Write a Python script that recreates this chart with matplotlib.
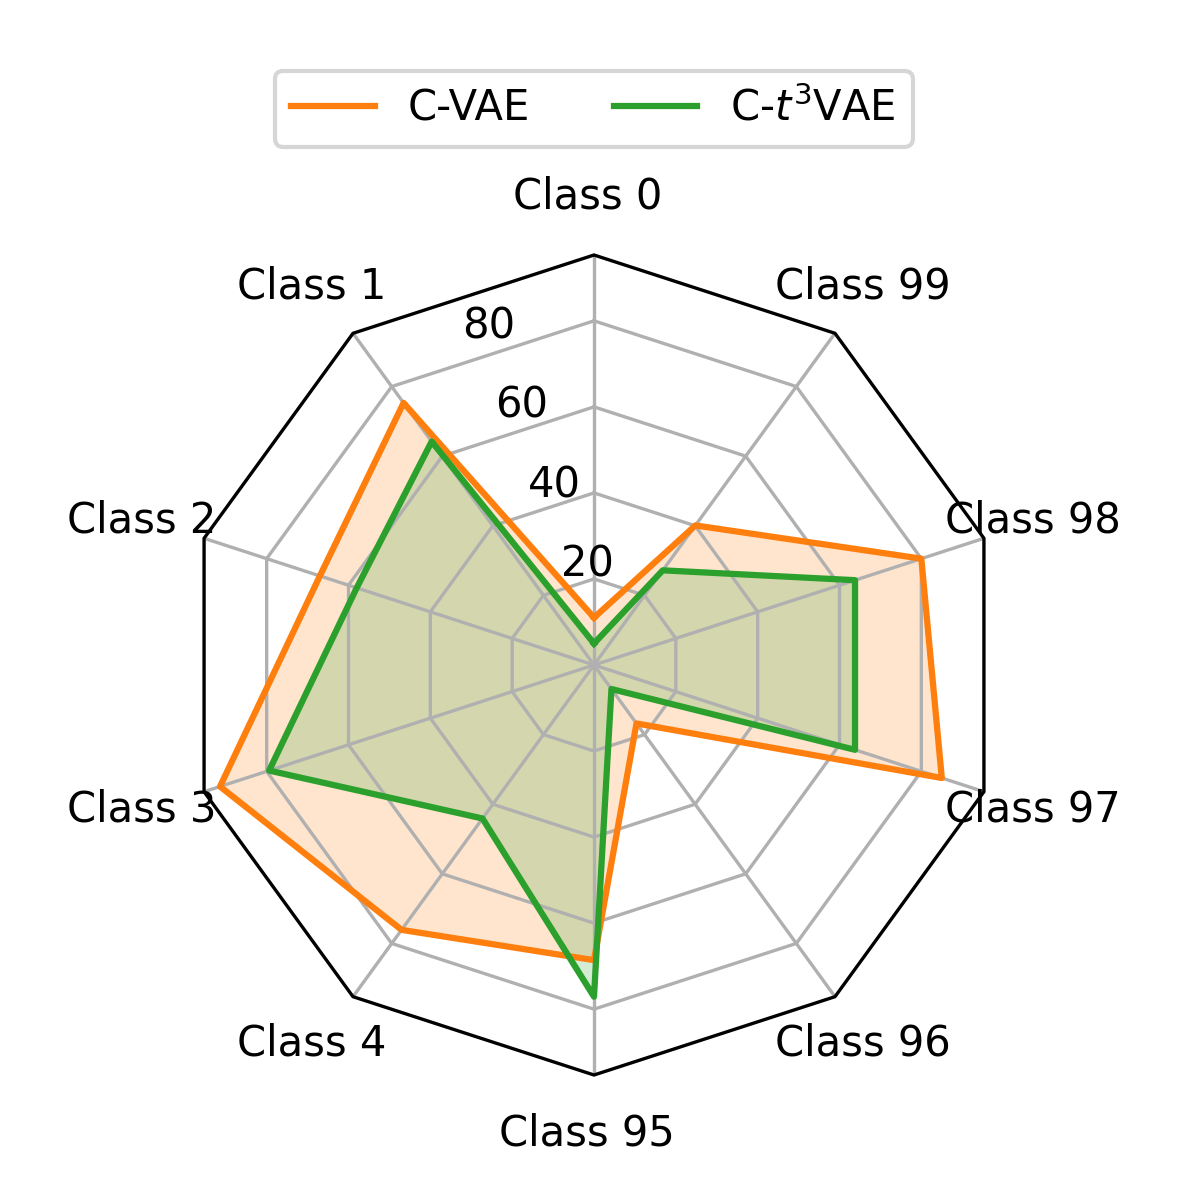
import numpy as np
import matplotlib as mpl
mpl.use('Agg')
import matplotlib.pyplot as plt
from matplotlib.patches import RegularPolygon
from matplotlib.path import Path
from matplotlib.projections import register_projection
from matplotlib.projections.polar import PolarAxes
from matplotlib.spines import Spine
from matplotlib.transforms import Affine2D

labels = ['Class 0', 'Class 1', 'Class 2', 'Class 3', 'Class 4',
          'Class 95', 'Class 96', 'Class 97', 'Class 98', 'Class 99']
cvae = [11, 75.3, 67, 91.4, 76.1, 68.6, 16.8, 85, 80, 40.1]
ct3vae = [5, 64.2, 58, 79.4, 44.1, 77.1, 6.9, 63.8, 63.8, 27.2]
rticks = [20, 40, 60, 80]
rmax = 95.3

N = len(labels)
theta = np.linspace(0, 2 * np.pi, N, endpoint=False)


class RadarTransform(PolarAxes.PolarTransform):
    def transform_path_non_affine(self, path):
        # gridlines -> polygons instead of circles
        if path._interpolation_steps > 1:
            path = path.interpolated(N)
        return Path(self.transform(path.vertices), path.codes)


class RadarAxes(PolarAxes):
    name = 'radar'
    PolarTransform = RadarTransform

    def __init__(self, *args, **kwargs):
        super().__init__(*args, **kwargs)
        self.set_theta_zero_location('N')

    def fill(self, *args, closed=True, **kwargs):
        return super().fill(closed=closed, *args, **kwargs)

    def plot(self, *args, **kwargs):
        lines = super().plot(*args, **kwargs)
        for line in lines:
            x, y = line.get_data()
            if x[0] != x[-1]:
                line.set_data(np.append(x, x[0]), np.append(y, y[0]))
        return lines

    def _gen_axes_patch(self):
        return RegularPolygon((0.5, 0.5), N, radius=.5, edgecolor="k")

    def _gen_axes_spines(self):
        spine = Spine(axes=self, spine_type='circle',
                      path=Path.unit_regular_polygon(N))
        spine.set_transform(Affine2D().scale(.5).translate(.5, .5)
                            + self.transAxes)
        return {'polar': spine}


register_projection(RadarAxes)

fig = plt.figure(figsize=(4, 4), dpi=300)
ax = fig.add_axes([184/1200, 125/1200, 820/1200, 820/1200], projection='radar')

ax.plot(theta, cvae, color='C1', label='C-VAE')
ax.fill(theta, cvae, facecolor='C1', alpha=0.2)
ax.plot(theta, ct3vae, color='C2', label='C-$t^3$VAE')
ax.fill(theta, ct3vae, facecolor='C2', alpha=0.2)

ax.set_thetagrids(np.degrees(theta), [l + ' ' for l in labels])
ax.set_rgrids(rticks)
ax.set_ylim(0, rmax)

ax.legend(loc='upper center', bbox_to_anchor=(0.4946, 0.941),
          bbox_transform=fig.transFigure, ncol=2, borderaxespad=0)

fig.savefig('out.png')
